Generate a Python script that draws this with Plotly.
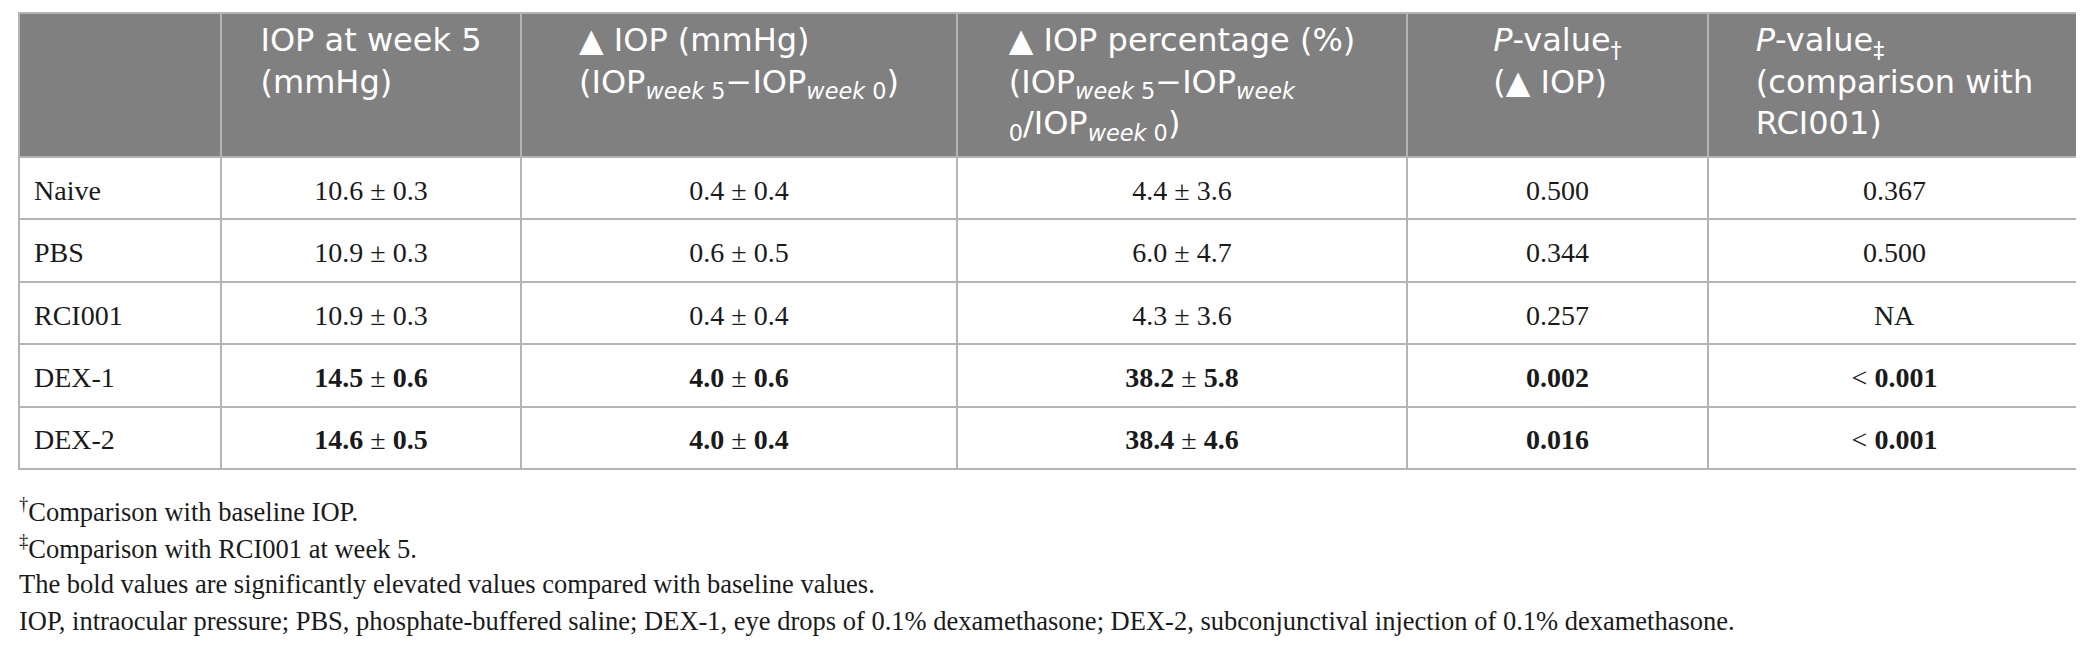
import plotly.graph_objects as go

W, H = 2084, 645

groups = ["Naive", "PBS", "RCI001", "DEX-1", "DEX-2"]
iop_mean = ["10.6", "10.9", "10.9", "14.5", "14.6"]
iop_sd = ["0.3", "0.3", "0.3", "0.6", "0.5"]
delta_mean = ["0.4", "0.6", "0.4", "4.0", "4.0"]
delta_sd = ["0.4", "0.5", "0.4", "0.6", "0.4"]
pct_mean = ["4.4", "6.0", "4.3", "38.2", "38.4"]
pct_sd = ["3.6", "4.7", "3.6", "5.8", "4.6"]
p_baseline = ["0.500", "0.344", "0.257", "0.002", "0.016"]
p_rci_prefix = ["", "", "", "< ", "< "]
p_rci = ["0.367", "0.500", "NA", "0.001", "0.001"]
bold_row = [False, False, False, True, True]

headers = [
    "",
    "IOP at week 5<br>(mmHg)",
    "▲ IOP (mmHg)<br>(IOP<sub><i>week</i> 5</sub>−IOP<sub><i>week</i> 0</sub>)",
    "▲ IOP percentage (%)<br>(IOP<sub><i>week</i> 5</sub>−IOP<sub><i>week</i></sub><br><sub>0</sub>/IOP<sub><i>week</i> 0</sub>)",
    "<i>P</i>-value<sub>†</sub><br>(▲ IOP)",
    "<i>P</i>-value<sub>‡</sub><br>(comparison with<br>RCI001)",
]

footnotes = [
    "<sup>†</sup>Comparison with baseline IOP.",
    "<sup>‡</sup>Comparison with RCI001 at week 5.",
    "The bold values are significantly elevated values compared with baseline values.",
    "IOP, intraocular pressure; PBS, phosphate-buffered saline; DEX-1, eye drops of 0.1% dexamethasone; DEX-2, subconjunctival injection of 0.1% dexamethasone.",
]

col_edges = [11, 213, 513, 949, 1399, 1700, 2073]
col_widths = [b - a for a, b in zip(col_edges[:-1], col_edges[1:])]

BODY_PX = 28
BASE_PX = 16


def b(s, on):
    return f"<b>{s}</b>" if on else s


def pm(m, s, on):
    return f"{b(m, on)} ± {b(s, on)}"


def cell(s, lead=""):
    # a small spacer line above pushes the value down to mid-row
    return f"&nbsp;<br><span style='font-size:{BODY_PX}px'>{lead}{s}</span>"


col0 = [cell(g, "&nbsp;") for g in groups]
col1 = [cell(pm(m, s, k)) for m, s, k in zip(iop_mean, iop_sd, bold_row)]
col2 = [cell(pm(m, s, k)) for m, s, k in zip(delta_mean, delta_sd, bold_row)]
col3 = [cell(pm(m, s, k)) for m, s, k in zip(pct_mean, pct_sd, bold_row)]
col4 = [cell(b(p, k)) for p, k in zip(p_baseline, bold_row)]
col5 = [cell(pre + b(p, k)) for pre, p, k in zip(p_rci_prefix, p_rci, bold_row)]
# 1-px spacer column that forms the right-hand border of the table
spacer = [""] * len(groups)

line_col = "#b4b4b4"
clear = "rgba(0,0,0,0)"
top, bottom = 5, 461
spacer_w = 1

fig = go.Figure(
    go.Table(
        domain=dict(x=[col_edges[0] / W, (col_edges[-1] + spacer_w + 3) / W],
                    y=[1 - (bottom + 14) / H, 1 - top / H]),
        columnwidth=col_widths + [spacer_w, 3],
        header=dict(
            values=headers + ["", ""],
            fill_color=["#808080"] * 6 + [line_col, clear],
            line=dict(color=[line_col] * 7 + [clear], width=[2] * 7 + [0]),
            align="center",
            height=144,
            font=dict(family="DejaVu Sans", size=32, color="white"),
        ),
        cells=dict(
            values=[col0, col1, col2, col3, col4, col5, spacer, spacer],
            fill_color=["white"] * 6 + [line_col, clear],
            line=dict(color=[line_col] * 7 + [clear], width=[2] * 7 + [0]),
            align=["left"] + ["center"] * 7,
            height=62.4,
            font=dict(family="Liberation Serif", size=BASE_PX, color="#1a1a1a"),
        ),
    )
)

foot_y = [502, 539, 576, 613]
for t, yy in zip(footnotes, foot_y):
    fig.add_annotation(
        text=t, xref="paper", yref="paper", x=9 / W, y=1 - yy / H,
        xanchor="left", yanchor="middle", showarrow=False, align="left",
        font=dict(family="Liberation Serif", size=26.5, color="#1a1a1a"),
    )

fig.update_layout(
    width=W, height=H,
    margin=dict(l=0, r=0, t=0, b=0),
    paper_bgcolor="white",
)

fig.write_html("out.html")
